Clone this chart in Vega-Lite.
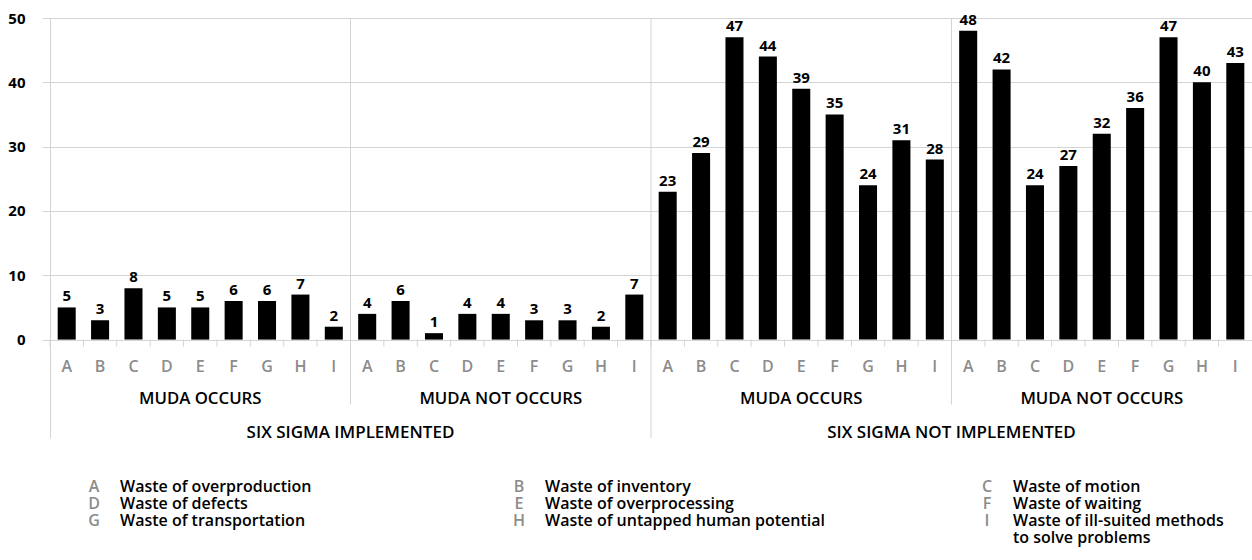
{
  "$schema": "https://vega.github.io/schema/vega-lite/v6.json",
  "padding": {"top": 11, "left": 7, "right": 0, "bottom": 4},
  "background": "white",
  "config": {
    "view": {"stroke": null},
    "font": "Open Sans",
    "text": {"font": "Open Sans"}
  },
  "datasets": {
    "main": [
      {"key": "1A", "cat": "A", "value": 5}, {"key": "1B", "cat": "B", "value": 3}, {"key": "1C", "cat": "C", "value": 8},
      {"key": "1D", "cat": "D", "value": 5}, {"key": "1E", "cat": "E", "value": 5}, {"key": "1F", "cat": "F", "value": 6},
      {"key": "1G", "cat": "G", "value": 6}, {"key": "1H", "cat": "H", "value": 7}, {"key": "1I", "cat": "I", "value": 2},
      {"key": "2A", "cat": "A", "value": 4}, {"key": "2B", "cat": "B", "value": 6}, {"key": "2C", "cat": "C", "value": 1},
      {"key": "2D", "cat": "D", "value": 4}, {"key": "2E", "cat": "E", "value": 4}, {"key": "2F", "cat": "F", "value": 3},
      {"key": "2G", "cat": "G", "value": 3}, {"key": "2H", "cat": "H", "value": 2}, {"key": "2I", "cat": "I", "value": 7},
      {"key": "3A", "cat": "A", "value": 23}, {"key": "3B", "cat": "B", "value": 29}, {"key": "3C", "cat": "C", "value": 47},
      {"key": "3D", "cat": "D", "value": 44}, {"key": "3E", "cat": "E", "value": 39}, {"key": "3F", "cat": "F", "value": 35},
      {"key": "3G", "cat": "G", "value": 24}, {"key": "3H", "cat": "H", "value": 31}, {"key": "3I", "cat": "I", "value": 28},
      {"key": "4A", "cat": "A", "value": 48}, {"key": "4B", "cat": "B", "value": 42}, {"key": "4C", "cat": "C", "value": 24},
      {"key": "4D", "cat": "D", "value": 27}, {"key": "4E", "cat": "E", "value": 32}, {"key": "4F", "cat": "F", "value": 36},
      {"key": "4G", "cat": "G", "value": 47}, {"key": "4H", "cat": "H", "value": 40}, {"key": "4I", "cat": "I", "value": 43}
    ],
    "separators": [
      {"key": "2A", "bottom": -10.1},
      {"key": "3A", "bottom": -15.3},
      {"key": "4A", "bottom": -10.1}
    ],
    "muda": [
      {"key": "1E", "label": "MUDA OCCURS"},
      {"key": "2E", "label": "MUDA NOT OCCURS"},
      {"key": "3E", "label": "MUDA OCCURS"},
      {"key": "4E", "label": "MUDA NOT OCCURS"}
    ],
    "sigma": [
      {"key": "2A", "label": "SIX SIGMA IMPLEMENTED"},
      {"key": "4A", "label": "SIX SIGMA NOT IMPLEMENTED"}
    ],
    "legend": [
      {"col": 1, "row": 1, "letter": "A", "text": "Waste of overproduction"},
      {"col": 2, "row": 1, "letter": "B", "text": "Waste of inventory"},
      {"col": 3, "row": 1, "letter": "C", "text": "Waste of motion"},
      {"col": 1, "row": 2, "letter": "D", "text": "Waste of defects"},
      {"col": 2, "row": 2, "letter": "E", "text": "Waste of overprocessing"},
      {"col": 3, "row": 2, "letter": "F", "text": "Waste of waiting"},
      {"col": 1, "row": 3, "letter": "G", "text": "Waste of transportation"},
      {"col": 2, "row": 3, "letter": "H", "text": "Waste of untapped human potential"},
      {"col": 3, "row": 3, "letter": "I", "text": "Waste of ill-suited methods"},
      {"col": 3, "row": 4, "letter": "", "text": "to solve problems"}
    ]
  },
  "vconcat": [
    {
      "width": 1202,
      "height": 420,
      "layer": [
        {
          "data": {"name": "main"},
          "mark": {"type": "bar", "color": "#000000", "width": {"band": 0.54}},
          "encoding": {
            "x": {"field": "key", "type": "nominal", "axis": null,
                  "scale": {"paddingInner": 0, "paddingOuter": 0}},
            "y": {"field": "value", "type": "quantitative",
                  "scale": {"domain": [-15.3, 50], "nice": false, "zero": false},
                  "axis": {"values": [0, 10, 20, 30, 40, 50], "title": null,
                           "grid": true, "gridColor": "#d4d4d4", "domainColor": "#d4d4d4",
                           "tickColor": "#d4d4d4", "tickSize": 8, "labelPadding": 17,
                           "labelFont": "Open Sans", "labelFontSize": 15, "labelFontWeight": "bold",
                           "labelColor": "#000000"}}
          }
        },
        {
          "data": {"name": "main"},
          "mark": {"type": "text", "baseline": "bottom", "dy": -3, "fontSize": 15, "fontWeight": "bold", "color": "#000000"},
          "encoding": {
            "x": {"field": "key", "type": "nominal"},
            "y": {"field": "value", "type": "quantitative"},
            "text": {"field": "value", "type": "quantitative"}
          }
        },
        {
          "data": {"name": "main"},
          "mark": {"type": "rule", "color": "#d4d4d4", "strokeWidth": 1},
          "encoding": {
            "x": {"field": "key", "type": "nominal", "bandPosition": 0},
            "y": {"datum": -1.1},
            "y2": {"datum": 0}
          }
        },
        {
          "data": {"name": "separators"},
          "mark": {"type": "rule", "color": "#d4d4d4", "strokeWidth": 1},
          "encoding": {
            "x": {"field": "key", "type": "nominal", "bandPosition": 0},
            "y": {"field": "bottom", "type": "quantitative"},
            "y2": {"datum": 50}
          }
        },
        {
          "data": {"name": "main"},
          "mark": {"type": "text", "baseline": "middle", "fontSize": 16, "fontWeight": 600, "color": "#8c8c8c"},
          "encoding": {
            "x": {"field": "key", "type": "nominal"},
            "y": {"datum": -4.2},
            "text": {"field": "cat", "type": "nominal"}
          }
        },
        {
          "data": {"name": "muda"},
          "mark": {"type": "text", "baseline": "middle", "fontSize": 16.8, "fontWeight": 600, "color": "#000000"},
          "encoding": {
            "x": {"field": "key", "type": "nominal"},
            "y": {"datum": -9.2},
            "text": {"field": "label", "type": "nominal"}
          }
        },
        {
          "data": {"name": "sigma"},
          "mark": {"type": "text", "baseline": "middle", "fontSize": 17, "fontWeight": 600, "color": "#000000"},
          "encoding": {
            "x": {"field": "key", "type": "nominal", "bandPosition": 0},
            "y": {"datum": -14.5},
            "text": {"field": "label", "type": "nominal"}
          }
        }
      ]
    },
    {
      "width": 1202,
      "height": 51,
      "data": {"name": "legend"},
      "layer": [
        {
          "mark": {"type": "text", "align": "center", "baseline": "middle", "dx": -26, "fontSize": 16, "fontWeight": 600, "color": "#8c8c8c"},
          "encoding": {
            "x": {"field": "col", "type": "quantitative", "axis": null,
                  "scale": {"domain": [1, 2, 3], "range": [70, 495, 963], "nice": false, "zero": false}},
            "y": {"field": "row", "type": "ordinal", "axis": null,
                  "scale": {"type": "point", "padding": 0}},
            "text": {"field": "letter", "type": "nominal"}
          }
        },
        {
          "mark": {"type": "text", "align": "left", "baseline": "middle", "fontSize": 16, "fontWeight": 600, "color": "#000000"},
          "encoding": {
            "x": {"field": "col", "type": "quantitative"},
            "y": {"field": "row", "type": "ordinal"},
            "text": {"field": "text", "type": "nominal"}
          }
        }
      ]
    }
  ],
  "spacing": 38
}
